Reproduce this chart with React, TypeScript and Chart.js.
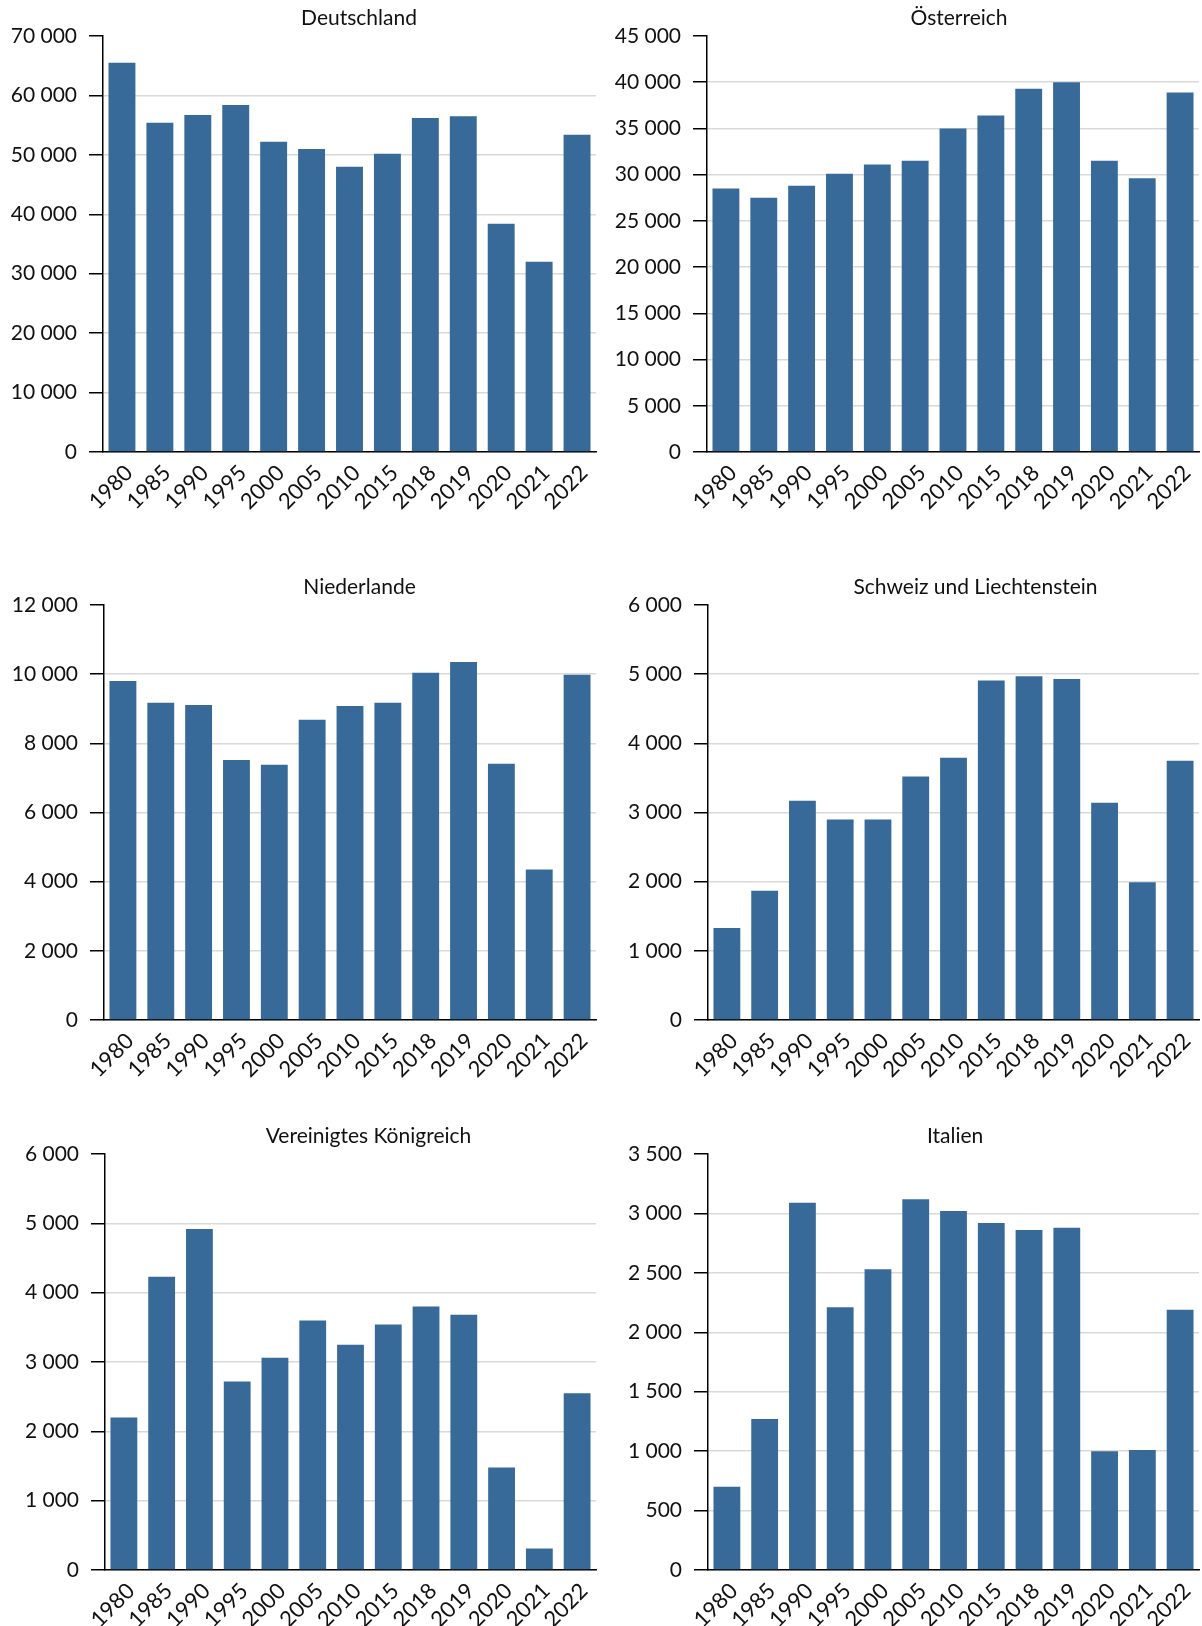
import React, { useEffect, useRef } from "react";
import { Chart, registerables } from "chart.js";

Chart.register(...registerables);

const YEARS = ["1980", "1985", "1990", "1995", "2000", "2005", "2010", "2015", "2018", "2019", "2020", "2021", "2022"];

const DEUTSCHLAND = [65500, 55400, 56700, 58400, 52200, 51000, 48000, 50200, 56200, 56500, 38400, 32000, 53400];
const OESTERREICH = [28500, 27500, 28800, 30100, 31100, 31500, 35000, 36400, 39300, 40000, 31500, 29600, 38900];
const NIEDERLANDE = [9800, 9170, 9110, 7520, 7380, 8680, 9080, 9170, 10040, 10350, 7410, 4350, 9980];
const SCHWEIZ = [1330, 1870, 3170, 2900, 2900, 3520, 3790, 4910, 4970, 4930, 3140, 1990, 3750];
const UK = [2200, 4230, 4920, 2720, 3060, 3600, 3250, 3540, 3800, 3680, 1480, 310, 2550];
const ITALIEN = [700, 1270, 3090, 2210, 2530, 3120, 3020, 2920, 2860, 2880, 1000, 1010, 2190];

const TITLES = ["Deutschland", "Österreich", "Niederlande", "Schweiz und Liechtenstein", "Vereinigtes Königreich", "Italien"];
const SERIES = [DEUTSCHLAND, OESTERREICH, NIEDERLANDE, SCHWEIZ, UK, ITALIEN];
const Y_MAX = [70000, 45000, 12000, 6000, 6000, 3500];
const Y_STEP = [10000, 5000, 2000, 1000, 1000, 500];

// layout (pixels) per panel
const LAYOUT = [
  { left: 0, top: 0, width: 600, height: 540, yW: 103, padTop: 36, padRight: 4, plotH: 416, dx: 9.5 },
  { left: 600, top: 0, width: 602, height: 540, yW: 107, padTop: 36, padRight: 3, plotH: 416, dx: 6 },
  { left: 0, top: 568, width: 600, height: 540, yW: 104, padTop: 37, padRight: 4, plotH: 415, dx: 9.5 },
  { left: 600, top: 568, width: 602, height: 540, yW: 108, padTop: 37, padRight: 3, plotH: 415, dx: 22 },
  { left: 0, top: 1118, width: 600, height: 508, yW: 105, padTop: 36, padRight: 4, plotH: 416, dx: 18 },
  { left: 600, top: 1118, width: 602, height: 508, yW: 108, padTop: 36, padRight: 3, plotH: 416, dx: 1.6 },
];

const BAR_COLOR = "#386a99";
const TEXT_COLOR = "#111111";
const FONT_FAMILY = "Lato, 'Noto Sans', sans-serif";
const FONT_SIZE = 21;
const X_FONT_SIZE = 22;

const fmt = (v: number | string) => String(v).replace(/\B(?=(\d{3})+(?!\d))/g, " ");

function Panel({ idx }: { idx: number }) {
  const ref = useRef<HTMLCanvasElement | null>(null);
  const box = LAYOUT[idx];

  useEffect(() => {
    let chart: Chart | null = null;
    let cancelled = false;
    const create = () => {
      if (cancelled || !ref.current) return;
      const title = TITLES[idx];
      const max = Y_MAX[idx];
      const xH = box.height - box.padTop - box.plotH;
      const titlePlugin = {
        id: "panelTitle",
        afterDraw(c: any) {
          const { ctx, chartArea } = c;
          ctx.save();
          ctx.font = `${FONT_SIZE}px ${FONT_FAMILY}`;
          ctx.fillStyle = TEXT_COLOR;
          ctx.textAlign = "center";
          ctx.textBaseline = "middle";
          ctx.fillText(title, (chartArea.left + chartArea.right) / 2 + box.dx, chartArea.top - 18);
          ctx.restore();
        },
      };
      chart = new Chart(ref.current, {
        type: "bar",
        data: {
          labels: YEARS,
          datasets: [
            {
              data: SERIES[idx],
              backgroundColor: BAR_COLOR,
              borderWidth: 0,
              barPercentage: 0.71,
              categoryPercentage: 1,
            },
          ],
        },
        options: {
          animation: false,
          responsive: false,
          events: [],
          layout: { padding: { top: box.padTop, right: box.padRight, left: 0, bottom: 0 } },
          plugins: {
            legend: { display: false },
            tooltip: { enabled: false },
            title: { display: false },
          },
          scales: {
            x: {
              grid: { display: false },
              border: { display: true, color: "#000", width: 1.5 },
              ticks: {
                autoSkip: false,
                minRotation: 45,
                maxRotation: 45,
                padding: 0,
                labelOffset: 7,
                color: TEXT_COLOR,
                font: { family: FONT_FAMILY, size: X_FONT_SIZE },
              },
              afterFit: (s: any) => {
                s.height = xH;
              },
            },
            y: {
              min: 0,
              max,
              ticks: {
                stepSize: Y_STEP[idx],
                padding: 12,
                color: TEXT_COLOR,
                font: { family: FONT_FAMILY, size: FONT_SIZE },
                callback: (v: any) => fmt(v),
              },
              grid: {
                color: (ctx: any) => (ctx.tick && ctx.tick.value === max ? "rgba(0,0,0,0)" : "#d9d9d9"),
                lineWidth: 1.5,
                tickColor: "#000",
                tickLength: 14,
                tickWidth: 1.5,
              },
              border: { display: true, color: "#000", width: 1.5 },
              afterFit: (s: any) => {
                s.width = box.yW;
              },
            },
          },
        },
        plugins: [titlePlugin],
      } as any);
    };
    const fonts: any = (document as any).fonts;
    if (fonts && fonts.load) {
      fonts.load(`${FONT_SIZE}px Lato`).then(create, create);
    } else {
      create();
    }
    return () => {
      cancelled = true;
      if (chart) chart.destroy();
    };
  }, [idx]);

  return (
    <div style={{ position: "absolute", left: box.left, top: box.top, width: box.width, height: box.height }}>
      <canvas ref={ref} width={box.width} height={box.height} style={{ display: "block" }} />
    </div>
  );
}

export default function App() {
  return (
    <div style={{ position: "absolute", left: 0, top: 0, width: 1202, height: 1626, background: "#fff", overflow: "hidden" }}>
      {LAYOUT.map((_, i) => (
        <Panel key={i} idx={i} />
      ))}
    </div>
  );
}
